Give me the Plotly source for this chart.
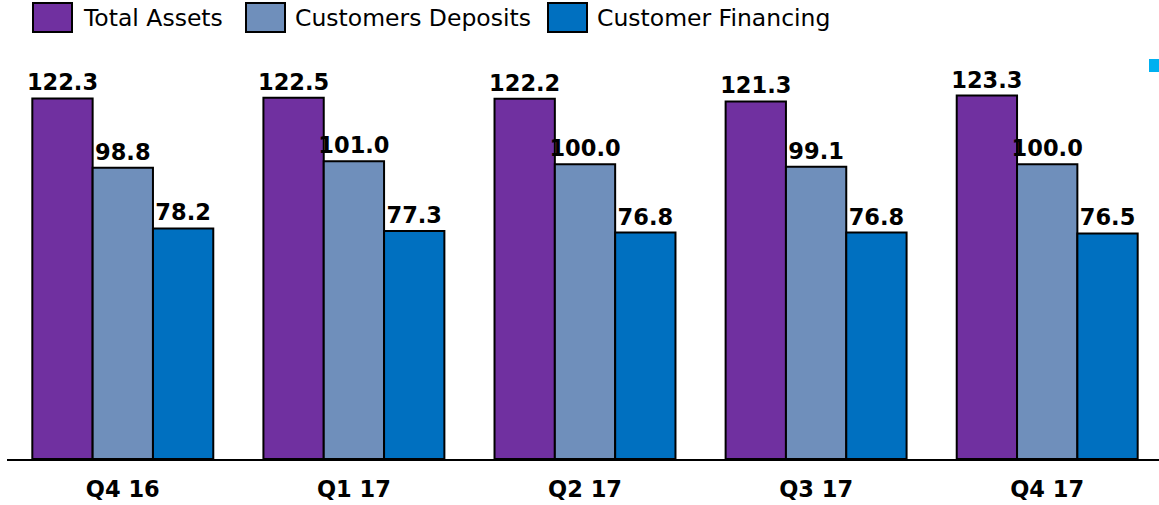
import plotly.graph_objects as go

categories = ["Q4 16", "Q1 17", "Q2 17", "Q3 17", "Q4 17"]
total_assets = [122.3, 122.5, 122.2, 121.3, 123.3]
customer_deposits = [98.8, 101.0, 100.0, 99.1, 100.0]
customer_financing = [78.2, 77.3, 76.8, 76.8, 76.5]

series_names = ["Total Assets", "Customers Deposits", "Customer Financing"]
series_values = [total_assets, customer_deposits, customer_financing]
colors = ["#7030A0", "#6F8FBB", "#0070C0"]

W, H = 1159, 505
ML, MR, MT, MB = 7, 0, 40, 46
PW = W - ML - MR
PH = H - MT - MB
STEP = 231.1  # pixels per category
X0 = -0.5 + (ML - 7.25) / STEP

fig = go.Figure()
for name, vals, col in zip(series_names, series_values, colors):
    fig.add_trace(go.Bar(
        x=categories, y=vals, name=name,
        marker=dict(color=col, line=dict(color="black", width=2)),
        texttemplate="<b>%{y:.1f}</b>", textposition="outside",
        outsidetextfont=dict(family="DejaVu Sans", size=22.5, color="black"),
        textfont=dict(family="DejaVu Sans", size=22.5, color="black"),
        constraintext="none", cliponaxis=False, showlegend=False,
    ))

def px_x(p):
    return (p - ML) / PW

def px_y(p):
    return (H - MB - p) / PH

# manual legend
legend_items = [
    (33, 72, 83, "Total Assets"),
    (246, 285, 295, "Customers Deposits"),
    (548, 587, 597, "Customer Financing"),
]
shapes = []
annotations = []
for (sx0, sx1, tx, label), col in zip(legend_items, colors):
    shapes.append(dict(type="rect", xref="paper", yref="paper",
                       x0=px_x(sx0), x1=px_x(sx1), y0=px_y(32), y1=px_y(3),
                       fillcolor=col, line=dict(color="black", width=2)))
    annotations.append(dict(xref="paper", yref="paper", x=px_x(tx - 2), y=px_y(18),
                            xanchor="left", yanchor="middle", showarrow=False,
                            text=label, font=dict(family="DejaVu Sans", size=23.5, color="black")))

# small cyan marker at top right
shapes.append(dict(type="rect", xref="paper", yref="paper",
                   x0=px_x(1149), x1=px_x(1160), y0=px_y(72), y1=px_y(59),
                   fillcolor="#00B0F0", line=dict(width=0)))

fig.update_layout(
    width=W, height=H, autosize=False,
    margin=dict(l=ML, r=MR, t=MT, b=MB, pad=0),
    paper_bgcolor="white", plot_bgcolor="white",
    barmode="group", bargap=0.217, bargroupgap=0,
    shapes=shapes, annotations=annotations,
    xaxis=dict(range=[X0, X0 + PW / STEP], showline=True, linecolor="black",
               linewidth=2, ticks="", showgrid=False, zeroline=False,
               tickfont=dict(family="DejaVu Sans", size=22.5, color="black"),
               tickprefix="<b>", ticksuffix="</b>",
               ticklabelstandoff=9),
    yaxis=dict(range=[0, PH / 2.948], visible=False, showgrid=False, zeroline=False),
)

fig.write_html(
    "out.html",
    config={"displayModeBar": False},
    post_script="document.body.style.margin='0';document.body.style.overflow='hidden';",
)
